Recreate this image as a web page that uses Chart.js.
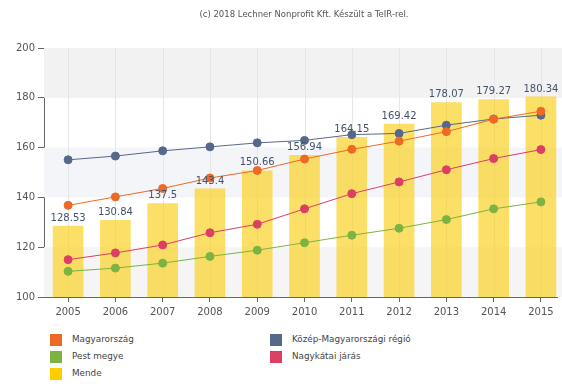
<!DOCTYPE html>
<html>
<head>
<meta charset="utf-8">
<script src="https://cdn.jsdelivr.net/npm/chart.js@4/dist/chart.umd.min.js"></script>
<style>
  html, body { margin: 0; padding: 0; background: #fff; overflow: hidden; }
  #wrap { position: relative; width: 562px; height: 389px; }
  #c { position: absolute; left: 0; top: 0; }
  .lg { position: absolute; font-family: "DejaVu Sans", sans-serif; font-size: 8.8px; color: #444; }
  .lg span.box { position: absolute; left: 0; top: 0; width: 12px; height: 12px; }
  .lg span.t { position: absolute; left: 22px; top: 0px; white-space: nowrap; }
</style>
</head>
<body>
<div id="wrap">
  <canvas id="c" width="562" height="330"></canvas>
</div>
<script>
const titleText = "(c) 2018 Lechner Nonprofit Kft. Készült a TeIR-rel.";
const years = [2005, 2006, 2007, 2008, 2009, 2010, 2011, 2012, 2013, 2014, 2015];
const mende = [128.53, 130.84, 137.5, 143.4, 150.66, 156.94, 164.15, 169.42, 178.07, 179.27, 180.34];
const magyarorszag = [136.8, 140.2, 143.6, 147.8, 150.8, 155.4, 159.3, 162.6, 166.4, 171.4, 174.6];
const kozepMagyar = [155.1, 156.6, 158.7, 160.3, 161.9, 162.9, 165.2, 165.7, 169.0, 171.5, 173.0];
const nagykatai = [115.0, 117.7, 120.9, 125.8, 129.2, 135.4, 141.5, 146.2, 151.1, 155.6, 159.2];
const pestMegye = [110.3, 111.6, 113.6, 116.3, 118.8, 121.8, 124.8, 127.6, 131.1, 135.4, 138.2];
const yTicks = [100, 120, 140, 160, 180, 200];

const names = {
  magyarorszag: "Magyarország",
  kozep: "Közép-Magyarországi régió",
  pest: "Pest megye",
  nagykatai: "Nagykátai járás",
  mende: "Mende"
};
const colors = {
  magyarorszag: "#ee6a24",
  kozep: "#56698a",
  pest: "#7cb342",
  nagykatai: "#dc3f64",
  mende: "#ffcc00"
};

function pts(arr) { return arr.map((v, i) => ({ x: years[i], y: v })); }
function lineDs(label, arr, col) {
  return {
    type: 'line', label, data: pts(arr), borderColor: col, backgroundColor: col,
    pointBackgroundColor: col, pointBorderColor: col, borderWidth: 1,
    pointRadius: 4, pointHoverRadius: 4, tension: 0, order: 1
  };
}

const bandsPlugin = {
  id: 'bands',
  beforeDatasetsDraw(chart) {
    const { ctx, chartArea: a, scales: { y, x } } = chart;
    ctx.save();
    const right = chart.width;
    const bands = [[180, 200, '#f2f2f2'], [140, 160, '#f3f5f9'], [100, 120, '#f5f5f5']];
    bands.forEach(([lo, hi, c]) => {
      ctx.fillStyle = c;
      const t = y.getPixelForValue(hi), b = y.getPixelForValue(lo);
      ctx.fillRect(a.left, t, right - a.left, b - t);
    });
    ctx.strokeStyle = '#e6e6e6';
    ctx.lineWidth = 1;
    years.forEach(v => {
      const px = Math.round(x.getPixelForValue(v)) + 0.5;
      ctx.beginPath(); ctx.moveTo(px, a.top); ctx.lineTo(px, a.bottom); ctx.stroke();
    });
    ctx.restore();
  }
};

const labelPlugin = {
  id: 'barLabels',
  afterDatasetsDraw(chart) {
    const { ctx } = chart;
    const meta = chart.getDatasetMeta(0);
    ctx.save();
    ctx.font = '10px "DejaVu Sans", sans-serif';
    ctx.fillStyle = '#45526a';
    ctx.textAlign = 'center';
    ctx.textBaseline = 'bottom';
    meta.data.forEach((el, i) => {
      ctx.fillText(String(mende[i]), el.x, el.y - 3);
    });
    ctx.restore();
  }
};

const titlePlugin = {
  id: 'topTitle',
  afterDraw(chart) {
    const { ctx } = chart;
    ctx.save();
    ctx.font = '8.5px "DejaVu Sans", sans-serif';
    ctx.fillStyle = '#555';
    ctx.textAlign = 'center';
    ctx.textBaseline = 'middle';
    ctx.fillText(titleText, 304, 15);
    ctx.restore();
  }
};

new Chart(document.getElementById('c'), {
  data: {
    datasets: [
      {
        type: 'bar', label: names.mende, data: pts(mende),
        backgroundColor: 'rgba(250, 208, 30, 0.68)', borderWidth: 0,
        barThickness: 30, order: 2
      },
      lineDs(names.magyarorszag, magyarorszag, colors.magyarorszag),
      lineDs(names.kozep, kozepMagyar, colors.kozep),
      lineDs(names.pest, pestMegye, colors.pest),
      lineDs(names.nagykatai, nagykatai, colors.nagykatai)
    ]
  },
  options: {
    responsive: false,
    animation: false,
    layout: { padding: { top: 48, right: 0, bottom: 8, left: 0 } },
    plugins: { legend: { display: false }, tooltip: { enabled: false } },
    scales: {
      x: {
        type: 'linear', min: 2004.49, max: 2015.34, offset: false,
        afterBuildTicks: s => { s.ticks = years.map(v => ({ value: v })); },
        grid: { display: true, drawOnChartArea: false, offset: false, tickLength: 5, color: '#666' },
        border: { display: true, color: '#666', width: 1 },
        ticks: {
          callback: v => String(v), color: '#555', padding: 4,
          font: { family: '"DejaVu Sans", sans-serif', size: 10 }, maxRotation: 0
        }
      },
      y: {
        min: 100, max: 200,
        afterBuildTicks: s => { s.ticks = yTicks.map(v => ({ value: v })); },
        afterFit: s => { s.width = 44; },
        grid: { display: true, drawOnChartArea: false, tickLength: 6, color: '#666' },
        border: { display: true, color: '#666', width: 1 },
        ticks: { color: '#555', padding: 3, font: { family: '"DejaVu Sans", sans-serif', size: 10 } }
      }
    }
  },
  plugins: [bandsPlugin, labelPlugin, titlePlugin]
});

const legendItems = [
  [names.magyarorszag, colors.magyarorszag, 50, 334],
  [names.pest, colors.pest, 50, 351],
  [names.mende, colors.mende, 50, 368],
  [names.kozep, colors.kozep, 270, 334],
  [names.nagykatai, colors.nagykatai, 270, 351]
];
const wrap = document.getElementById('wrap');
legendItems.forEach(([t, c, x, y]) => {
  const d = document.createElement('div');
  d.className = 'lg';
  d.style.left = x + 'px'; d.style.top = y + 'px';
  d.innerHTML = '<span class="box" style="background:' + c + '"></span><span class="t"></span>';
  d.querySelector('.t').textContent = t;
  wrap.appendChild(d);
});
</script>
</body>
</html>
